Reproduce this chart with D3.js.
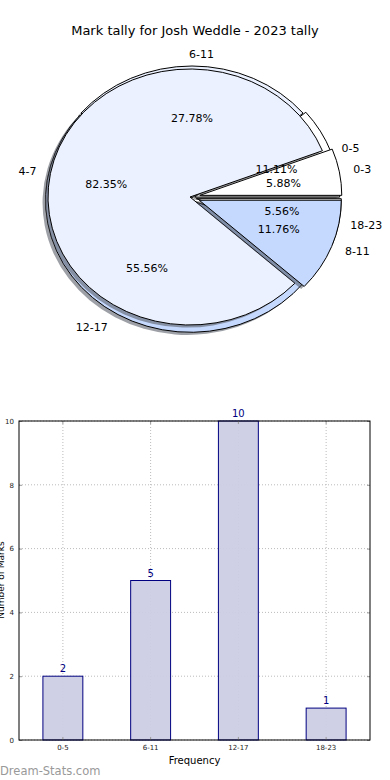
<!DOCTYPE html>
<html>
<head>
<meta charset="utf-8">
<script src="https://cdn.jsdelivr.net/npm/d3@7"></script>
<style>
  body { margin: 0; background: #fff; }
  svg { display: block; font-family: "DejaVu Sans", sans-serif; }
</style>
</head>
<body>
<script>
// data
const title = "Mark tally for Josh Weddle - 2023 tally"
const quarterCats = ["0-5", "6-11", "12-17", "18-23"]
const quarterVals = [2, 5, 10, 1]
const quarterExplode = [0.02, 0, 0.02, 0.03]
const blockCats = ["0-3", "4-7", "8-11"]
const blockVals = [1, 14, 2]
const blockExplode = [0.07, 0, 0.07]
const wedgeColors = ["#ffffff", "#ebf1fe", "#c5d9ff", "#ffffff"]
const yTicks = [0, 2, 4, 6, 8, 10]

const W = 390, H = 780

const svg = d3.select("body").append("svg")
    .attr("width", W)
    .attr("height", H)

svg.append("text")
    .attr("x", 195).attr("y", 35)
    .attr("text-anchor", "middle")
    .attr("font-size", "13px")
    .attr("fill", "#000")
    .text(title)

const pieLayer = svg.append("g")
const labelLayer = svg.append("g")

// matplotlib style: counterclockwise from 3 o'clock
const pie = d3.pie().sort(null)
    .startAngle(Math.PI / 2)
    .endAngle(Math.PI / 2 - 2 * Math.PI)

function shade(c) {
    const k = d3.rgb(c)
    return d3.rgb(k.r * 0.3, k.g * 0.3, k.b * 0.3).toString()
}

function drawPie(cats, vals, explode, cx, cy, rx, ry, lx, ly, pctDy) {
    const arcs = pie(vals)
    const arc = d3.arc().innerRadius(0).outerRadius(rx)
    const g = pieLayer.append("g")
    const pt = function(a, r) {
        const m = (a.startAngle + a.endAngle) / 2
        return [Math.sin(m) * r * rx, -Math.cos(m) * r * ry]
    }
    arcs.forEach(function(a, i) {
        const off = pt(a, explode[i])
        const x = cx + off[0], y = cy + off[1]
        // shadow then wedge, like matplotlib does
        g.append("path")
            .attr("d", arc(a))
            .attr("transform", "translate(" + (x - 3) + "," + (y + 2.6) + ") scale(1," + ry / rx + ")")
            .attr("fill", shade(wedgeColors[i % wedgeColors.length]))
            .attr("fill-opacity", 0.5)
            .attr("stroke", "none")
        g.append("path")
            .attr("d", arc(a))
            .attr("transform", "translate(" + x + "," + y + ") scale(1," + ry / rx + ")")
            .attr("fill", wedgeColors[i % wedgeColors.length])
            .attr("stroke", "#000")
            .attr("stroke-width", 1)
            .attr("vector-effect", "non-scaling-stroke")
    })
    const total = d3.sum(vals)
    arcs.forEach(function(a, i) {
        const off = pt(a, explode[i])
        const lp = pt(a, 1.1)
        const m = (a.startAngle + a.endAngle) / 2
        labelLayer.append("text")
            .attr("x", cx + off[0] + lp[0] + lx)
            .attr("y", cy + off[1] + lp[1] + ly)
            .attr("dy", "0.35em")
            .attr("text-anchor", Math.sin(m) >= 0 ? "start" : "end")
            .attr("font-size", "11px")
            .text(cats[i])
        const pp = pt(a, 0.6)
        labelLayer.append("text")
            .attr("x", cx + off[0] + pp[0])
            .attr("y", cy + off[1] + pp[1] + pctDy)
            .attr("dy", "0.35em")
            .attr("text-anchor", "middle")
            .attr("font-size", "11px")
            .text((vals[i] / total * 100).toFixed(2) + "%")
    })
}

drawPie(quarterCats, quarterVals, quarterExplode, 192, 198, 145, 132, -3, 1, -1)
drawPie(blockCats, blockVals, blockExplode, 190, 197, 142, 128, 0, 0, 1.5)

// bar chart
const plotL = 19, plotR = 370, plotT = 421, plotB = 740

const x = d3.scaleBand()
    .domain(quarterCats)
    .range([plotL, plotR])
    .paddingInner(0.545)
    .paddingOuter(0.2725)

const y = d3.scaleLinear()
    .domain([0, 10])
    .range([plotB, plotT])

const grid = svg.append("g")
grid.selectAll(".hg")
    .data(yTicks)
    .enter()
    .append("line")
    .attr("x1", plotL).attr("x2", plotR)
    .attr("y1", function(d) { return y(d) })
    .attr("y2", function(d) { return y(d) })
    .attr("stroke", "#bbb")
    .attr("stroke-dasharray", "1,2")
grid.selectAll(".vg")
    .data(quarterCats)
    .enter()
    .append("line")
    .attr("x1", function(d) { return x(d) + x.bandwidth() / 2 })
    .attr("x2", function(d) { return x(d) + x.bandwidth() / 2 })
    .attr("y1", plotT).attr("y2", plotB)
    .attr("stroke", "#bbb")
    .attr("stroke-dasharray", "1,2")

svg.selectAll(".bar")
    .data(quarterVals)
    .enter()
    .append("rect")
    .attr("x", function(d, i) { return x(quarterCats[i]) })
    .attr("y", function(d) { return y(d) })
    .attr("width", x.bandwidth())
    .attr("height", function(d) { return plotB - y(d) })
    .attr("fill", "#cccce5")
    .attr("fill-opacity", 0.95)
    .attr("stroke", "#000080")
    .attr("stroke-width", 1)

svg.selectAll(".val")
    .data(quarterVals)
    .enter()
    .append("text")
    .attr("x", function(d, i) { return x(quarterCats[i]) + x.bandwidth() / 2 })
    .attr("y", function(d) { return y(d) - 4 })
    .attr("text-anchor", "middle")
    .attr("font-size", "10px")
    .attr("fill", "#000080")
    .text(function(d) { return d })

// axes, ticks inward
const yAxis = d3.axisLeft(y).tickValues(yTicks).tickSize(-3).tickPadding(5)
const gy = svg.append("g").attr("transform", "translate(" + plotL + ",0)").call(yAxis)
const yAxisR = d3.axisRight(y).tickValues(yTicks).tickSize(-3).tickFormat("")
const gyr = svg.append("g").attr("transform", "translate(" + plotR + ",0)").call(yAxisR)
const xAxis = d3.axisBottom(x).tickSize(-3).tickPadding(5)
const gx = svg.append("g").attr("transform", "translate(0," + plotB + ")").call(xAxis)
const xAxisT = d3.axisTop(x).tickSize(-3).tickFormat("")
const gxt = svg.append("g").attr("transform", "translate(0," + plotT + ")").call(xAxisT)

;[gy, gyr, gx, gxt].forEach(function(g) {
    g.select(".domain").remove()
    g.selectAll(".tick line").attr("stroke", "#999")
    g.selectAll(".tick text").attr("font-size", "7px").attr("fill", "#222")
        .attr("font-family", "DejaVu Sans, sans-serif")
})

svg.append("rect")
    .attr("x", plotL).attr("y", plotT)
    .attr("width", plotR - plotL).attr("height", plotB - plotT)
    .attr("fill", "none")
    .attr("stroke", "#000")
    .attr("stroke-width", 1)

svg.append("text")
    .attr("x", (plotL + plotR) / 2).attr("y", 764)
    .attr("text-anchor", "middle")
    .attr("font-size", "10px")
    .text("Frequency")

svg.append("text")
    .attr("transform", "translate(4,580) rotate(-90)")
    .attr("text-anchor", "middle")
    .attr("font-size", "9px")
    .text("Number of Marks")

svg.append("text")
    .attr("x", 0).attr("y", 775)
    .attr("font-size", "11.5px")
    .attr("fill", "#999")
    .text("Dream-Stats.com")
</script>
</body>
</html>
